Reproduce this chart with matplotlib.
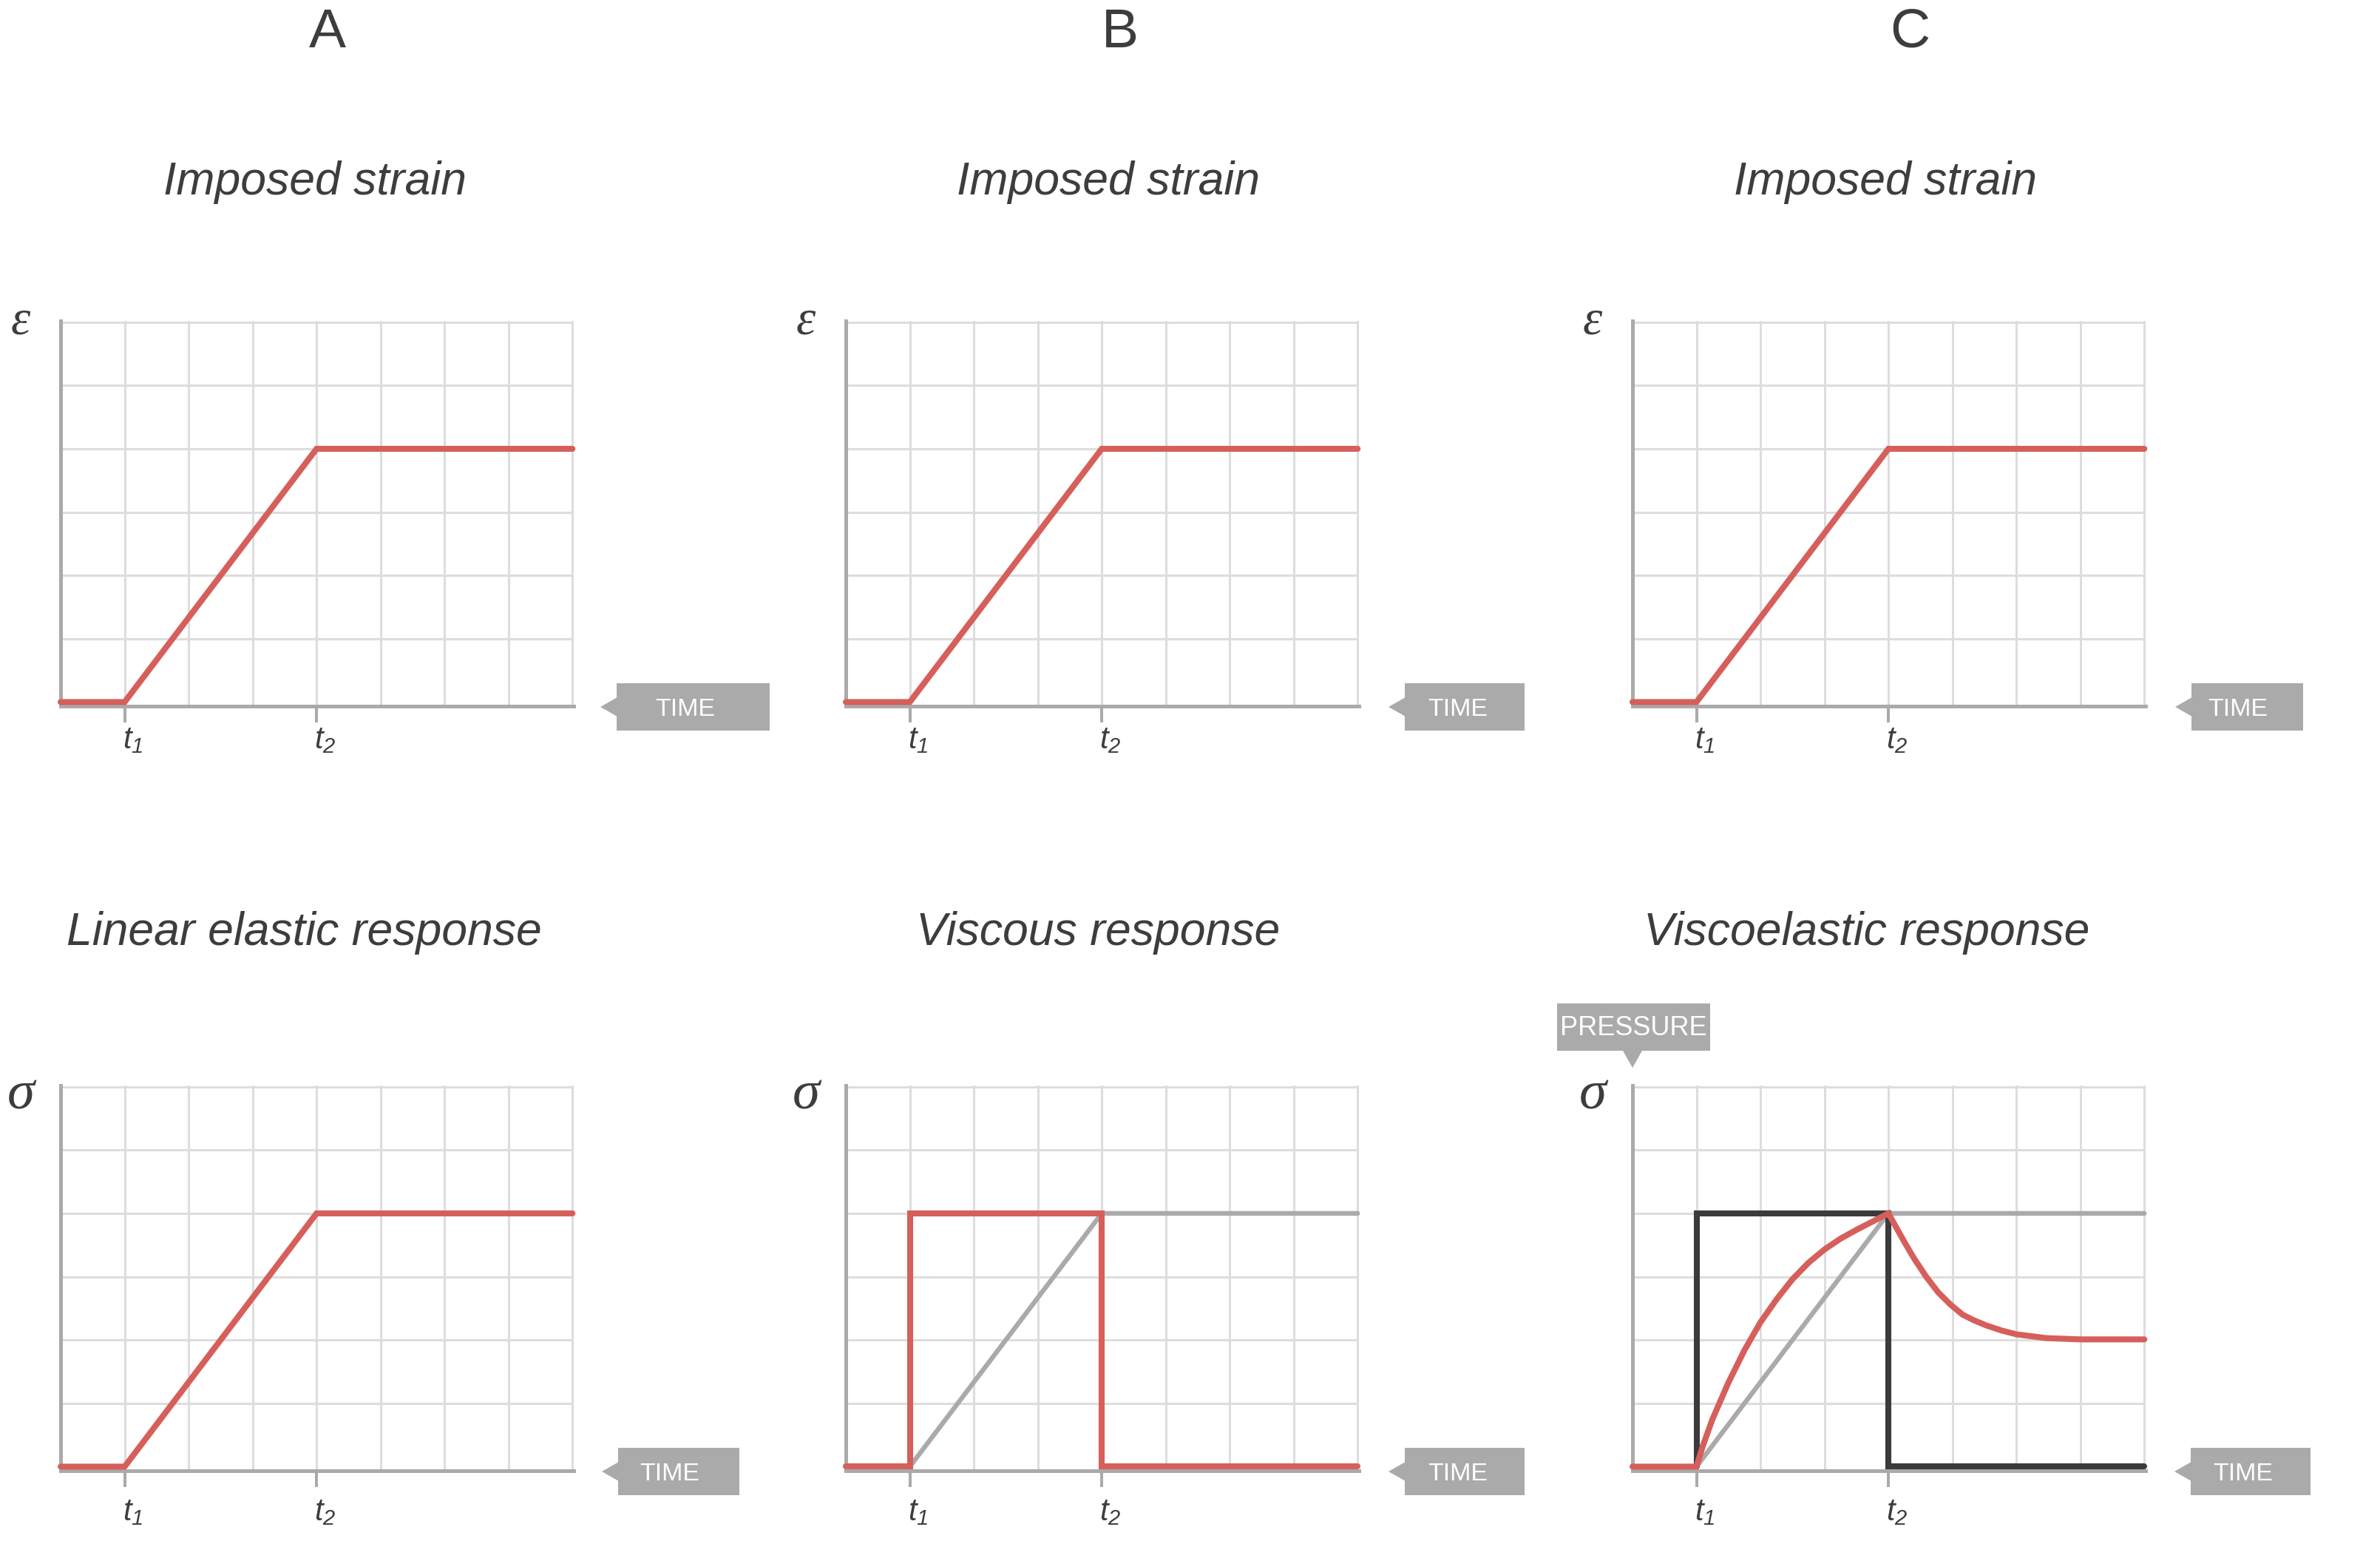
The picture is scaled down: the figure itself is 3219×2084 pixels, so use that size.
import matplotlib.pyplot as plt
from matplotlib.patches import Polygon

plt.rcParams['font.family'] = ['Liberation Sans', 'DejaVu Sans']
plt.rcParams['mathtext.fontset'] = 'custom'
plt.rcParams['mathtext.it'] = 'Liberation Sans:italic'
plt.rcParams['mathtext.rm'] = 'Liberation Sans:italic'

RED = '#d65f5b'
GRAY = '#aaaaaa'
GRID = '#dddddd'
DARK = '#3b3b3b'
TEXT = '#3d3d3d'

# ---- data (time in grid units, value in grid units) ----
strain_t = [0, 1, 4, 8]
strain_val = [0, 0, 4, 4]

elastic_t = [0, 1, 4, 8]
elastic_val = [0, 0, 4, 4]

viscous_t = [0, 1, 1, 4, 4, 8]
viscous_val = [0, 0, 4, 4, 0, 0]

ref_t = [1, 4, 8]
ref_val = [0, 4, 4]

pressure_t = [1, 1, 4, 4, 8]
pressure_val = [0, 4, 4, 0, 0]

visco_t = [0, 1, 1.1, 1.25, 1.5, 1.75, 2.0, 2.25, 2.5, 2.75, 3.0, 3.25, 3.5,
           3.75, 4.0, 4.11, 4.26, 4.40, 4.59, 4.78, 4.97, 5.16, 5.34, 5.53,
           5.77, 6.0, 6.47, 7.0, 8.0]
visco_val = [0, 0, 0.33, 0.75, 1.33, 1.84, 2.28, 2.64, 2.96, 3.22, 3.43, 3.60,
             3.74, 3.87, 4.0, 3.8, 3.53, 3.29, 3.0, 2.75, 2.56, 2.40, 2.31,
             2.23, 2.15, 2.09, 2.03, 2.01, 2.01]

tick_times = [1, 4]
tick_labels = ['$t_1$', '$t_2$']
col_letters = ['A', 'B', 'C']
top_titles = ['Imposed strain', 'Imposed strain', 'Imposed strain']
bottom_titles = ['Linear elastic response', 'Viscous response', 'Viscoelastic response']
row_symbols = ['ε', 'σ']

# ---- layout in pixels ----
W, H = 3219, 2084
fig = plt.figure(figsize=(W / 100, H / 100), dpi=100, facecolor='white')


def fx(x):
    return x / W


def fy(y):
    return 1 - y / H


cols = [82, 1144, 2208]
rows = [434, 1468]
AX_W, AX_H = 694, 521
letter_x = [443, 1515, 2583]
top_title_x = [426, 1499, 2550]
bottom_title_x = [411, 1485, 2525]
# (gap from axis right, box width, text pad) for each TIME box
time_boxes = [[(58, 207, 52), (62, 162, 31), (62, 151, 22)],
              [(60, 164, 29), (62, 162, 31), (61, 162, 30)]]
tlabel_drop = [57, 67]
sym_drop = [17, 31]
sym_size = [48, 54]

panels = [
    [[(strain_t, strain_val, RED, 5.8)]] * 3,
    [[(elastic_t, elastic_val, RED, 5.8)],
     [(ref_t, ref_val, GRAY, 4.6), (viscous_t, viscous_val, RED, 5.8)],
     [(ref_t, ref_val, GRAY, 4.6), (pressure_t, pressure_val, DARK, 5.8),
      (visco_t, visco_val, RED, 5.8)]],
]


def time_box(x0, w, pad, cy):
    pts = [(x0 - 22, cy), (x0, cy - 12.5), (x0, cy - 32), (x0 + w, cy - 32),
           (x0 + w, cy + 32), (x0, cy + 32), (x0, cy + 12.5)]
    fig.add_artist(Polygon([(fx(a), fy(b)) for a, b in pts], closed=True,
                           transform=fig.transFigure, facecolor=GRAY,
                           edgecolor='none'))
    fig.text(fx(x0 + pad), fy(cy + 12), 'TIME', color='white', fontsize=24.5,
             ha='left', va='baseline')


for r, top in enumerate(rows):
    for c, left in enumerate(cols):
        ax = fig.add_axes([fx(left), fy(top + AX_H), AX_W / W, AX_H / H])
        ax.set_xlim(0, 8.02)
        ax.set_ylim(-0.065, 6.02)
        ax.set_xticks(tick_times)
        ax.set_xticklabels([])
        ax.set_xticks(range(1, 9), minor=True)
        ax.set_yticks([])
        ax.set_yticks(range(1, 7), minor=True)
        ax.xaxis.remove_overlapping_locs = False
        ax.set_axisbelow(True)
        ax.grid(which='both', axis='x', color=GRID, lw=2.2)
        ax.grid(which='minor', axis='y', color=GRID, lw=2.2)
        ax.tick_params(axis='x', which='major', length=15.8, width=2.9,
                       color=GRAY, direction='out')
        ax.tick_params(which='minor', length=0)
        ax.tick_params(axis='y', which='major', length=0)
        for s in ['top', 'right']:
            ax.spines[s].set_visible(False)
        for s in ['left', 'bottom']:
            ax.spines[s].set_color(GRAY)
            ax.spines[s].set_linewidth(3.6)
            ax.spines[s].set_capstyle('projecting')

        for t, v, colr, lw in panels[r][c]:
            ax.plot(t, v, color=colr, lw=lw, zorder=3, clip_on=False,
                    solid_capstyle='round', solid_joinstyle='miter')

        for tt, lab in zip(tick_times, tick_labels):
            ax.annotate(lab, xy=(tt, 0), xycoords=('data', 'axes fraction'),
                        xytext=(-3, -tlabel_drop[r]), textcoords='offset pixels',
                        ha='left', va='baseline', fontsize=30, color=TEXT)

        fig.text(fx(left - 54), fy(top + sym_drop[r]), row_symbols[r],
                 family=['Liberation Serif', 'DejaVu Serif'], style='italic',
                 fontsize=sym_size[r], color=TEXT, ha='center', va='baseline')

        gap, bw, pad = time_boxes[r][c]
        time_box(left + AX_W + gap, bw, pad, top + AX_H + 1)

for c in range(3):
    fig.text(fx(letter_x[c]), fy(64), col_letters[c], fontsize=54, color=TEXT,
             ha='center', va='baseline')
    fig.text(fx(top_title_x[c]), fy(263), top_titles[c], fontsize=45,
             style='italic', color=TEXT, ha='center', va='baseline')
    fig.text(fx(bottom_title_x[c]), fy(1278), bottom_titles[c], fontsize=45,
             style='italic', color=TEXT, ha='center', va='baseline')

# PRESSURE call-out above the stress axis of panel C
px0, px1, py0, py1 = 2106, 2313, 1357, 1421
tip_x = cols[2]
pts = [(px0, py0), (px1, py0), (px1, py1), (tip_x + 13, py1), (tip_x, py1 + 23),
       (tip_x - 13, py1), (px0, py1)]
fig.add_artist(Polygon([(fx(a), fy(b)) for a, b in pts], closed=True,
                       transform=fig.transFigure, facecolor=GRAY, edgecolor='none'))
fig.text(fx((px0 + px1) / 2), fy(1400), 'PRESSURE', color='white', fontsize=26,
         ha='center', va='baseline')

fig.savefig('out.png', dpi=100, facecolor='white')
